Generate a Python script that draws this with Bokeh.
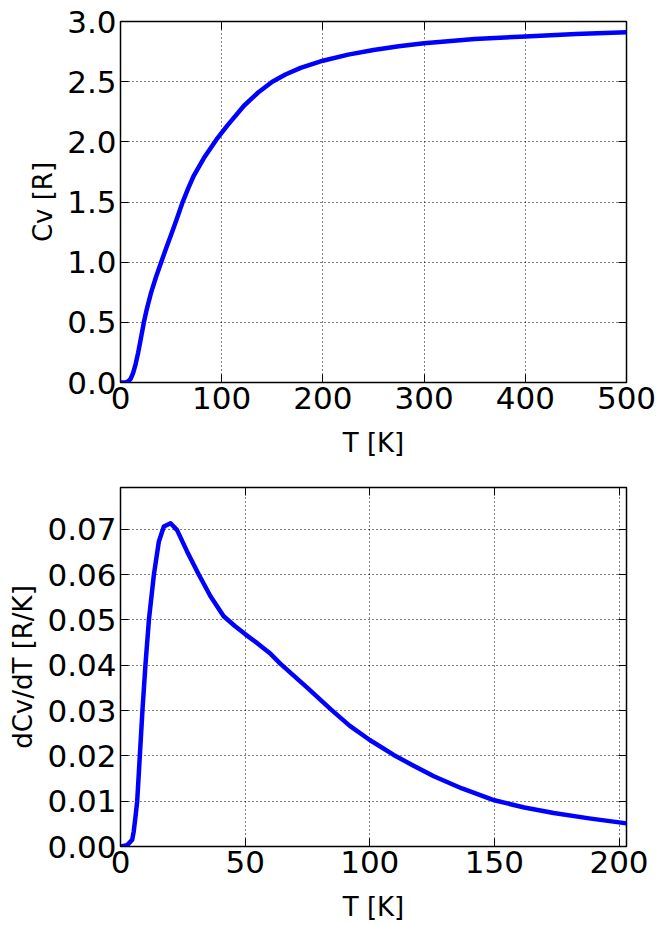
from bokeh.plotting import figure
from bokeh.layouts import column
from bokeh.models import Range1d, FixedTicker, PrintfTickFormatter, LinearAxis, CustomJSTickFormatter
from bokeh.embed import file_html
from bokeh.resources import INLINE

# Top panel: heat capacity Cv [R] vs T [K]
T_cv = [0, 5, 8, 10, 12.5, 15, 17.5, 20, 23.1, 26, 30, 35, 40.2, 45, 50, 55, 61,
        67, 72.5, 82.4, 94.9, 105.5, 122, 136, 150, 163, 178, 200, 225, 250,
        275, 300, 350, 400, 450, 500]
Cv = [0.0, 0.0, 0.012, 0.03, 0.08, 0.155, 0.25, 0.36, 0.5, 0.61, 0.74, 0.875,
      1.0, 1.113, 1.228, 1.345, 1.49, 1.615, 1.72, 1.865, 2.02, 2.135, 2.30,
      2.41, 2.50, 2.56, 2.615, 2.674, 2.725, 2.763, 2.795, 2.82, 2.855, 2.876,
      2.896, 2.91]

# Bottom panel: dCv/dT [R/K] vs T [K]
T_d = [0, 2.7, 4.7, 5.3, 6.0, 6.7, 7.75, 8.8, 10.0, 11.4, 13.4, 15.4, 17.4,
       20.1, 22.7, 26.7, 31.4, 36.1, 41.4, 46, 50.1, 55, 60.2, 64.2, 75, 84.5,
       92, 100, 109.6, 117, 125.7, 137, 150, 162, 173.8, 188, 203]
dCv = [0.0, 0.0003, 0.0015, 0.0033, 0.0065, 0.01, 0.02, 0.03, 0.04, 0.05, 0.06,
       0.0673, 0.0706, 0.0713, 0.0698, 0.0651, 0.06, 0.0552, 0.0508, 0.0486,
       0.0468, 0.0448, 0.0425, 0.0403, 0.0350, 0.0302, 0.0266, 0.0235, 0.0202,
       0.0180, 0.0155, 0.0128, 0.0102, 0.0086, 0.0074, 0.0062, 0.0051]

top_xticks = [0, 100, 200, 300, 400, 500]
top_yticks = [0.0, 0.5, 1.0, 1.5, 2.0, 2.5, 3.0]
bot_xticks = [0, 50, 100, 150, 200]
bot_yticks = [0.0, 0.01, 0.02, 0.03, 0.04, 0.05, 0.06, 0.07]

FONT = "DejaVu Sans"
TICK_FS = "31px"
LABEL_FS = "26px"


def style_axis(ax, labels=True):
    ax.axis_line_color = None
    ax.major_tick_in = 8
    ax.major_tick_out = 0
    ax.minor_tick_line_color = None
    ax.major_tick_line_color = "black"
    ax.major_tick_line_width = 1
    if labels:
        ax.major_label_text_font = FONT
        ax.major_label_text_font_size = TICK_FS
        ax.major_label_text_color = "black"
        ax.axis_label_text_font = FONT
        ax.axis_label_text_font_size = LABEL_FS
        ax.axis_label_text_font_style = "normal"
        ax.axis_label_text_color = "black"
    else:
        ax.formatter = CustomJSTickFormatter(code="return '';")
        ax.major_label_standoff = 0


def make(xr, yr, xt, yt, yfmt, xlabel, ylabel, height, bb, xs, ys):
    p = figure(width=659, height=height, x_range=Range1d(*xr), y_range=Range1d(*yr),
               output_backend="svg", toolbar_location=None,
               min_border_left=120, min_border_right=33,
               min_border_top=21, min_border_bottom=bb)
    p.background_fill_color = "white"
    p.border_fill_color = "white"
    p.outline_line_color = "black"
    p.outline_line_width = 1.5
    p.outline_line_alpha = 1
    p.line(xs, ys, line_color="#0000ff", line_width=4.5, line_join="round")

    p.xaxis.ticker = FixedTicker(ticks=xt)
    p.yaxis.ticker = FixedTicker(ticks=yt)
    p.yaxis.formatter = PrintfTickFormatter(format=yfmt)
    p.xaxis.axis_label = xlabel
    p.yaxis.axis_label = ylabel
    for ax in p.xaxis:
        style_axis(ax)
        ax.major_label_standoff = 4
        ax.axis_label_standoff = 16
    for ax in p.yaxis:
        style_axis(ax)
        ax.major_label_standoff = 4
        ax.axis_label_standoff = 6

    top = LinearAxis(ticker=FixedTicker(ticks=xt))
    style_axis(top, labels=False)
    p.add_layout(top, "above")
    right = LinearAxis(ticker=FixedTicker(ticks=yt))
    style_axis(right, labels=False)
    p.add_layout(right, "right")

    p.xgrid.ticker = FixedTicker(ticks=xt)
    p.ygrid.ticker = FixedTicker(ticks=yt)
    for g in list(p.xgrid) + list(p.ygrid):
        g.grid_line_color = "black"
        g.grid_line_width = 1
        g.grid_line_dash = "1 3"
        g.grid_line_alpha = 1
    return p


p1 = make((0, 500), (0, 3.0), top_xticks, top_yticks, "%.1f", "T [K]", "Cv [R]",
          466, 84, T_cv, Cv)
p2 = make((0, 203), (0, 0.0792), bot_xticks, bot_yticks, "%.2f", "T [K]",
          "dCv/dT [R/K]", 458, 76, T_d, dCv)

layout = column(p1, p2, spacing=0)
open("out.html", "w").write(file_html(layout, INLINE))
